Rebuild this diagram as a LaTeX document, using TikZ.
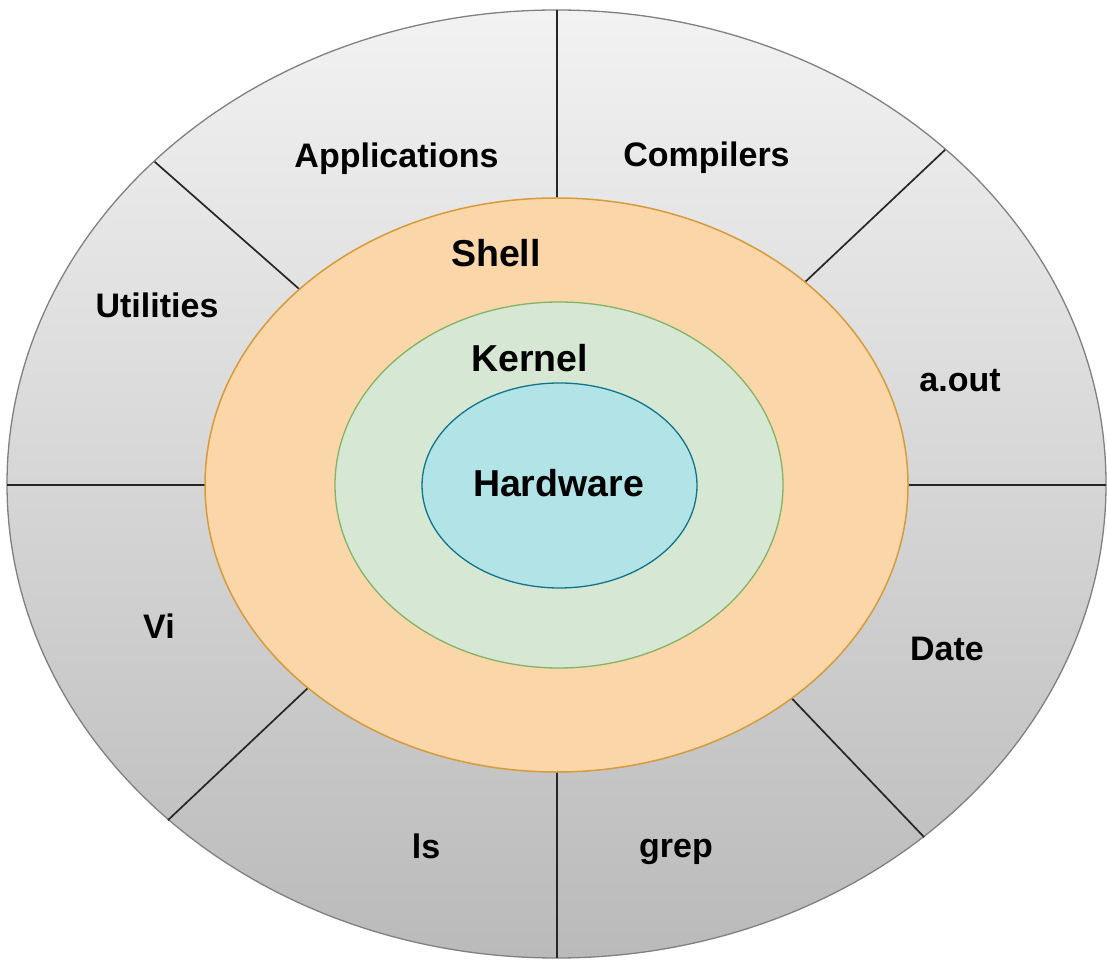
\documentclass[tikz,border=0pt]{standalone}
\usepackage{fontspec}
\setmainfont{Liberation Sans}
\usepackage{tikz}
\usetikzlibrary{positioning, calc}

\definecolor{outtop}{RGB}{242,242,242}
\definecolor{outbot}{RGB}{186,186,186}
\definecolor{shellfill}{RGB}{250,214,168}
\definecolor{shelldraw}{RGB}{215,155,60}
\definecolor{kernfill}{RGB}{214,232,212}
\definecolor{kerndraw}{RGB}{130,179,102}
\definecolor{hwfill}{RGB}{177,227,231}
\definecolor{hwdraw}{RGB}{16,116,138}

\tikzset{
  divider/.style={draw=black!85, line width=1.7pt},
  outlbl/.style={anchor=base, inner sep=0pt, font=\fontsize{34}{37}\selectfont\bfseries},
  inlbl/.style={anchor=base, inner sep=0pt, font=\fontsize{37.5}{40}\selectfont\bfseries}
}

\begin{document}
\begin{tikzpicture}[x=1pt, y=1pt]
  \useasboundingbox (0,0) rectangle (1107,959);
  \coordinate (c) at (556.5,474);

  % layers
  \draw[gray, line width=1.3pt, top color=outtop, bottom color=outbot] (556.5,475) ellipse (549.5 and 474);
  \foreach \a in {45,137,225,312}
    \draw[divider] ($(c)+(\a:351.5 and 287)$) -- ($(c)+(\a:549.5 and 474)$);
  \draw[divider] (557,949) -- (557,761);
  \draw[divider] (557,187) -- (557,1);
  \draw[divider] (7,474) -- (205,474);
  \draw[divider] (908,474) -- (1106,474);
  \draw[draw=shelldraw, line width=1.5pt, fill=shellfill] (c) ellipse (351.5 and 287);
  \draw[draw=kerndraw, line width=1.3pt, fill=kernfill] (559,474) ellipse (224 and 183);
  \draw[draw=hwdraw, line width=1.3pt, fill=hwfill] (559.5,473.5) ellipse (137.5 and 102.5);

  % labels
  \node[outlbl] (apps) at (396.5,791) {Applications};
  \node[outlbl] (comp) at (706.5,792) {Compilers};
  \node[outlbl] (util) at (157,641) {Utilities};
  \node[outlbl] (aout) at (960,567) {a.out};
  \node[outlbl] (vi) at (159,321) {Vi};
  \node[outlbl] (date) at (947,299) {Date};
  \node[outlbl] (ls) at (426,101) {ls};
  \node[outlbl] (grep) at (676,102) {grep};
  \node[inlbl] (shell) at (496,692) {Shell};
  \node[inlbl] (kernel) at (529.5,587) {Kernel};
  \node[inlbl] (hw) at (558.5,462) {Hardware};
\end{tikzpicture}
\end{document}
